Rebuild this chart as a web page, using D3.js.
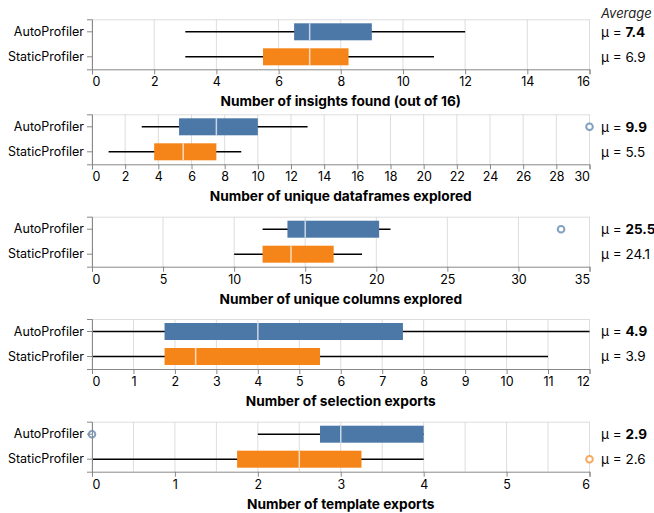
<!DOCTYPE html>
<html>
<head>
<meta charset="utf-8">
<script src="https://cdn.jsdelivr.net/npm/d3@7"></script>
<style>
  body { margin: 0; background: #fff; }
  svg { font-family: Inter, "Noto Sans", sans-serif; }
</style>
</head>
<body>
<svg id="chart"></svg>
<script>
// the two tools compared in every panel
var groups = ["AutoProfiler", "StaticProfiler"];
var colors = ["#4c78a8", "#f58518"];

// one entry per panel
var titles = [
    "Number of insights found (out of 16)",
    "Number of unique dataframes explored",
    "Number of unique columns explored",
    "Number of selection exports",
    "Number of template exports"
];
var domainMax = [16, 30, 35, 12, 6];
var tickStep = [2, 2, 5, 1, 1];
var gridStep = [2, 2, 5, 1, 0.5];

// [min, q1, median, q3, max]
var autoStats = [
    [3, 6.5, 7, 9, 12],
    [3, 5.25, 7.5, 10, 13],
    [12, 13.75, 15, 20.2, 21],
    [0, 1.75, 4, 7.5, 12],
    [2, 2.75, 3, 4, 4]
];
var staticStats = [
    [3, 5.5, 7, 8.25, 11],
    [1, 3.75, 5.5, 7.5, 9],
    [10, 12, 14, 17, 19],
    [0, 1.75, 2.5, 5.5, 11],
    [0, 1.75, 2.5, 3.25, 4]
];
var autoOutliers = [[], [30], [33], [], [0]];
var staticOutliers = [[], [], [], [], [6]];
var autoMeans = [7.4, 9.9, 25.5, 4.9, 2.9];
var staticMeans = [6.9, 5.5, 24.1, 3.9, 2.6];

var screen = {width: 654, height: 513};
var margins = {left: 92, right: 64};
var panelTops = [19.3, 114.3, 216.7, 319, 421.7];
var panelHeight = 50;
var boxHeight = 17;

var svg = d3.select("#chart")
    .attr("width", screen.width)
    .attr("height", screen.height);

var plotWidth = screen.width - margins.left - margins.right - 0.5;

// header over the mean column
svg.append("text")
    .attr("x", 601)
    .attr("y", 18)
    .attr("font-size", 13)
    .attr("font-style", "italic")
    .attr("fill", "#222")
    .text("Average");

var drawPanel = function(i)
{
    var g = svg.append("g")
        .attr("transform", "translate(" + margins.left + "," + panelTops[i] + ")");

    var xScale = d3.scaleLinear()
        .domain([0, domainMax[i]])
        .range([0, plotWidth]);
    var yScale = d3.scaleBand()
        .domain(groups)
        .range([0, panelHeight]);

    // grid
    g.selectAll(".grid")
        .data(d3.range(0, domainMax[i] + 0.001, gridStep[i]))
        .enter()
        .append("line")
        .attr("x1", function(d) { return xScale(d); })
        .attr("x2", function(d) { return xScale(d); })
        .attr("y1", 0)
        .attr("y2", panelHeight)
        .attr("stroke", "#ddd");

    // frame top / right
    g.append("path")
        .attr("d", "M0,0.5H" + plotWidth + "V" + panelHeight)
        .attr("fill", "none")
        .attr("stroke", "#ddd");

    var rows = [
        {name: groups[0], stats: autoStats[i], outliers: autoOutliers[i], mean: autoMeans[i], color: colors[0], bold: true},
        {name: groups[1], stats: staticStats[i], outliers: staticOutliers[i], mean: staticMeans[i], color: colors[1], bold: false}
    ];

    rows.forEach(function(row)
    {
        var cy = yScale(row.name) + yScale.bandwidth() / 2;
        var s = row.stats;

        // whiskers
        g.append("line")
            .attr("x1", xScale(s[0]))
            .attr("x2", xScale(s[4]))
            .attr("y1", cy)
            .attr("y2", cy)
            .attr("stroke", "#000")
            .attr("stroke-width", 1.5);

        // box
        g.append("rect")
            .attr("x", xScale(s[1]))
            .attr("y", cy - boxHeight / 2)
            .attr("width", xScale(s[3]) - xScale(s[1]))
            .attr("height", boxHeight)
            .attr("fill", row.color);

        // median
        g.append("line")
            .attr("x1", xScale(s[2]))
            .attr("x2", xScale(s[2]))
            .attr("y1", cy - boxHeight / 2)
            .attr("y2", cy + boxHeight / 2)
            .attr("stroke", "#fff")
            .attr("stroke-opacity", 0.7)
            .attr("stroke-width", 1.5);

        // outliers
        g.selectAll(".out")
            .data(row.outliers)
            .enter()
            .append("circle")
            .attr("cx", function(d) { return xScale(d); })
            .attr("cy", cy)
            .attr("r", 3.3)
            .attr("fill", "#fff")
            .attr("stroke", row.color)
            .attr("stroke-opacity", 0.7)
            .attr("stroke-width", 2);

        // mean text
        var t = svg.append("text")
            .attr("x", 601)
            .attr("y", panelTops[i] + cy)
            .attr("dy", "0.35em")
            .attr("font-size", 13.5)
            .text("\u03bc = ");
        t.append("tspan")
            .attr("font-weight", row.bold ? "bold" : "normal")
            .text(row.mean);
    });

    // x axis
    var ticks = d3.range(0, domainMax[i] + 0.001, tickStep[i]);
    var xAxis = d3.axisBottom(xScale)
        .tickValues(ticks)
        .tickFormat(d3.format("d"))
        .tickSize(5)
        .tickPadding(3);
    var xg = g.append("g")
        .attr("transform", "translate(0," + panelHeight + ")")
        .call(xAxis);
    xg.select(".domain").attr("stroke", "#888");
    xg.selectAll(".tick line").attr("stroke", "#888");
    xg.selectAll("text")
        .attr("font-size", 12.5)
        .attr("font-family", "Inter, sans-serif")
        .attr("fill", "#000")
        // first and last labels flush with the plot edges
        .attr("text-anchor", function(d, k)
        {
            if (k == 0) return "start";
            if (k == ticks.length - 1) return "end";
            return "middle";
        });

    // y axis
    var yAxis = d3.axisLeft(yScale)
        .tickSize(5)
        .tickPadding(3);
    var yg = g.append("g").call(yAxis);
    yg.select(".domain").attr("stroke", "#888");
    yg.selectAll(".tick line").attr("stroke", "#888");
    yg.selectAll("text")
        .attr("font-size", 12.5)
        .attr("font-family", "Inter, sans-serif")
        .attr("fill", "#000");

    // title
    g.append("text")
        .attr("x", plotWidth / 2)
        .attr("y", panelHeight + 37)
        .attr("text-anchor", "middle")
        .attr("font-size", 13.7)
        .attr("font-weight", "bold")
        .text(titles[i]);
};

for (var i = 0; i < titles.length; i++)
{
    drawPanel(i);
}
</script>
</body>
</html>
